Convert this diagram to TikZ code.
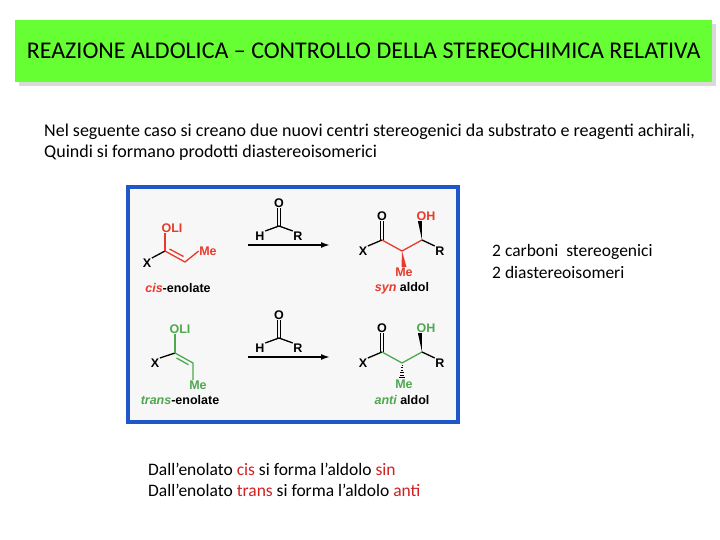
\documentclass[tikz,border=0pt]{standalone}
\usepackage{fontspec}
\usetikzlibrary{arrows.meta,calc}
\setmainfont{Carlito}
\newfontfamily\chem{Liberation Sans}
\definecolor{tgreen}{HTML}{66FF33}
\definecolor{cred}{HTML}{E8392A}
\definecolor{cgreen}{HTML}{4FA84F}
\definecolor{bblue}{HTML}{1F56C8}
\definecolor{tred}{HTML}{D02020}
\begin{document}
\begin{tikzpicture}[x=1pt,y=-1pt,
  lbl/.style={font=\chem\bfseries\fontsize{12.5}{12}\selectfont,inner sep=0.5pt},
  bond/.style={line width=1.3pt},
  body/.style={font=\fontsize{18}{21}\selectfont,anchor=west,inner sep=0,align=left},
  rxn/.style={-{Latex[length=9pt,width=6pt]},line width=1.6pt}]
\useasboundingbox (0,0) rectangle (720,540);
% title
\fill[gray!30] (19,24) rectangle (716,86);
\node[fill=tgreen,minimum width=697,minimum height=62,anchor=north west,inner sep=0] (title) at (15,20) {};
\node[font=\fontsize{24}{26}\selectfont] (tt) at (title.center) {REAZIONE ALDOLICA – CONTROLLO DELLA STEREOCHIMICA RELATIVA};
\node[body] (intro) at (44,142) {Nel seguente caso si creano due nuovi centri stereogenici da substrato e reagenti achirali,\\Quindi si formano prodotti diastereoisomerici};
% box
\node[draw=bblue,line width=4pt,fill=gray!6,minimum width=330,minimum height=235,anchor=north west,inner sep=0] (box) at (126,185) {};
% ---- cis enolate
\node[lbl,text=cred] (o1) at (172,228) {OLI};
\node[lbl] (x1) at (147,263) {X};
\node[lbl,text=cred] (me1) at (208,251) {Me};
\coordinate (c1a) at (165,251); \coordinate (c1b) at (185,262);
\draw[bond] (x1.north east) -- (c1a);
\draw[bond,cred] (c1a) -- (o1.south west -| c1a);
\draw[bond,cred] (c1a) -- (c1b) -- (me1.west);
\draw[bond,cred] (169.5,249) -- (183.5,256.5);
\node[font=\chem\bfseries\fontsize{12.5}{12}\selectfont] (lab1) at (178,288) {\textcolor{cred}{\itshape cis}-enolate};
% ---- aldehydes & arrows
\foreach \dy/\n in {0/a,112/b}{
  \node[lbl] (ao\n) at (279,203+\dy) {O};
  \node[lbl] (ah\n) at (260,236+\dy) {H};
  \node[lbl] (ar\n) at (298,236+\dy) {R};
  \coordinate (ac\n) at (279,226+\dy);
  \draw[bond] (ah\n.north east) -- (ac\n) -- (ar\n.north west);
  \draw[bond] ($(ac\n)+(-1.8,0)$) -- ($(ao\n.south)+(-1.8,0)$);
  \draw[bond] ($(ac\n)+(1.8,0)$) -- ($(ao\n.south)+(1.8,0)$);
  \coordinate (s\n) at (248,245+\dy); \coordinate (e\n) at (330,245+\dy);
  \draw[rxn] (s\n) -- (e\n);
}
% ---- syn aldol
\node[lbl] (po1) at (382,216) {O};
\node[lbl] (px1) at (363,251) {X};
\node[lbl,text=cred] (poh1) at (426,216) {OH};
\node[lbl] (pr1) at (440,251) {R};
\node[lbl,text=cred] (pme1) at (404,272) {Me};
\coordinate (k1) at (382,240); \coordinate (m1) at (402,251); \coordinate (n1) at (422,240);
\draw[bond] (px1.north east) -- (k1);
\draw[bond] ($(k1)+(-1.8,0)$) -- ($(po1.south)+(-1.8,0)$);
\draw[bond] ($(k1)+(1.8,0)$) -- ($(po1.south)+(1.8,0)$);
\draw[bond,cred] (k1) -- (m1) -- (n1);
\draw[bond] (n1) -- (pr1.north west);
\fill[cred] (m1) -- ($(pme1.north)+(-2.5,0)$) -- ($(pme1.north)+(2.5,0)$) -- cycle;
\fill (n1) -- ($(poh1.south west)+(2,0)$) -- ($(poh1.south west)+(6,0)$) -- cycle;
\node[font=\chem\bfseries\fontsize{12.5}{12}\selectfont] (lab2) at (402,288) {\textcolor{cred}{\itshape syn} aldol};
% ---- trans enolate
\node[lbl,text=cgreen] (o2) at (180,329) {OLI};
\node[lbl] (x2) at (155,363) {X};
\node[lbl,text=cgreen] (me2) at (198,385) {Me};
\coordinate (c2a) at (175,353); \coordinate (c2b) at (193,363);
\draw[bond] (x2.north east) -- (c2a);
\draw[bond,cgreen] (c2a) -- (o2.south west -| c2a);
\draw[bond,cgreen] (c2a) -- (c2b) -- (me2.north -| c2b);
\draw[bond,cgreen] (176.5,358) -- (188.5,364.7);
\node[font=\chem\bfseries\fontsize{12.5}{12}\selectfont] (lab3) at (180,400) {\textcolor{cgreen}{\itshape trans}-enolate};
% ---- anti aldol
\node[lbl] (po2) at (382,328) {O};
\node[lbl] (px2) at (363,363) {X};
\node[lbl,text=cgreen] (poh2) at (426,328) {OH};
\node[lbl] (pr2) at (440,363) {R};
\node[lbl,text=cgreen] (pme2) at (404,384) {Me};
\coordinate (k2) at (382,352); \coordinate (m2) at (402,363); \coordinate (n2) at (422,352);
\draw[bond] (px2.north east) -- (k2);
\draw[bond] ($(k2)+(-1.8,0)$) -- ($(po2.south)+(-1.8,0)$);
\draw[bond] ($(k2)+(1.8,0)$) -- ($(po2.south)+(1.8,0)$);
\draw[bond,cgreen] (k2) -- (m2) -- (n2);
\draw[bond] (n2) -- (pr2.north west);
\foreach \t in {0.15,0.3,...,0.95}{
  \draw[line width=1pt] ($(m2)+(-3*\t,16*\t)$) -- ($(m2)+(3*\t,16*\t)$);}
\fill (n2) -- ($(poh2.south west)+(2,0)$) -- ($(poh2.south west)+(6,0)$) -- cycle;
\node[font=\chem\bfseries\fontsize{12.5}{12}\selectfont] (lab4) at (402,400) {\textcolor{cgreen}{\itshape anti} aldol};
% right text
\node[body,font=\fontsize{17.5}{22}\selectfont] (side) at (492,261) {2 carboni\ \ stereogenici\\2 diastereoisomeri};
% bottom text
\node[body,font=\fontsize{17.5}{21}\selectfont] (bot) at (148,480) {Dall’enolato \textcolor{tred}{cis} si forma l’aldolo \textcolor{tred}{sin}\\Dall’enolato \textcolor{tred}{trans} si forma l’aldolo \textcolor{tred}{anti}};
\end{tikzpicture}
\end{document}
